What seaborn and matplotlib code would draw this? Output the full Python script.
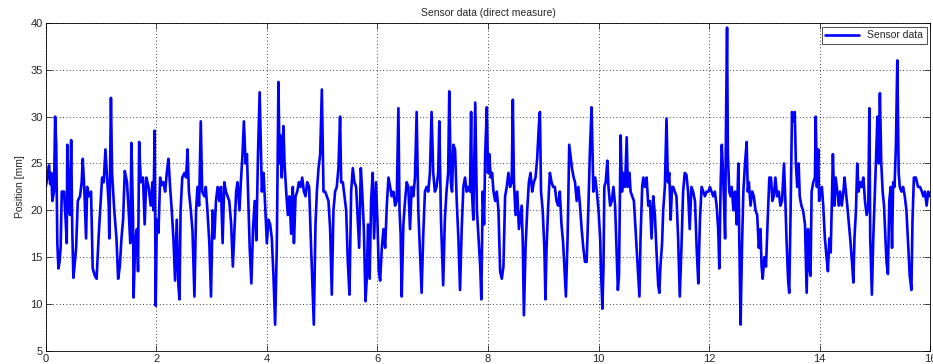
import matplotlib
matplotlib.use("Agg")
import matplotlib.pyplot as plt
import pandas as pd
import seaborn as sns

# Sensor position samples: (time [s], position [mm]), split into 2-second stretches
seg_00_02 = [(0.00, 22.5), (0.03, 23.5), (0.06, 24.8), (0.08, 22.8), (0.10, 24), (0.12, 21), (0.15, 22),
             (0.17, 30), (0.19, 27), (0.21, 16.5), (0.23, 13.8), (0.25, 14.5), (0.27, 16), (0.29, 22),
             (0.33, 22), (0.36, 19), (0.38, 16.5), (0.39, 27), (0.42, 21), (0.44, 19.5), (0.46, 27.5),
             (0.48, 18), (0.50, 12.8), (0.52, 14), (0.55, 16), (0.58, 21), (0.62, 21.5), (0.65, 23),
             (0.67, 25.5), (0.70, 22), (0.73, 17), (0.75, 22.5), (0.78, 21.5), (0.82, 22), (0.85, 13.8),
             (0.89, 13), (0.92, 12.7), (0.96, 17.5), (1.00, 21.5), (1.02, 23.5), (1.05, 23), (1.08, 26.5),
             (1.11, 23.5), (1.14, 20.5), (1.15, 17), (1.18, 32), (1.20, 24), (1.24, 20), (1.28, 17),
             (1.31, 12.7), (1.34, 14), (1.37, 17), (1.40, 19), (1.43, 24.2), (1.47, 23), (1.50, 20),
             (1.53, 16.5), (1.55, 27.2), (1.58, 19), (1.59, 10.7), (1.62, 17), (1.65, 18), (1.67, 13.5),
             (1.69, 27.3), (1.72, 23), (1.76, 23.5), (1.79, 18.5), (1.82, 23.5), (1.86, 22.5), (1.90, 20.5),
             (1.93, 23), (1.95, 20), (1.97, 28.5), (1.99, 9.8)]

seg_02_04 = [(2.01, 19), (2.04, 17.6), (2.07, 23.5), (2.10, 22.7), (2.13, 23), (2.16, 22), (2.19, 24),
             (2.22, 25.5), (2.25, 22.5), (2.28, 20), (2.31, 17), (2.34, 12.5), (2.37, 19), (2.40, 12),
             (2.42, 10.5), (2.44, 20), (2.47, 23.5), (2.51, 24), (2.54, 23.5), (2.565, 26.5), (2.59, 22),
             (2.625, 20), (2.655, 17.8), (2.69, 10.8), (2.72, 20), (2.745, 22.5), (2.775, 20.5),
             (2.805, 29.5), (2.83, 22), (2.87, 21.5), (2.895, 22.5), (2.925, 20), (2.96, 16.5), (2.99, 10.8),
             (3.02, 20), (3.05, 17), (3.08, 21), (3.11, 22.5), (3.14, 21), (3.17, 22.5), (3.20, 16.5),
             (3.23, 23), (3.26, 22), (3.29, 21.5), (3.32, 21), (3.355, 18.5), (3.385, 14), (3.415, 18),
             (3.445, 22), (3.47, 23), (3.505, 20), (3.53, 23), (3.56, 26), (3.585, 29.5), (3.615, 25),
             (3.64, 26), (3.66, 22), (3.69, 16), (3.72, 12.2), (3.75, 18), (3.78, 21), (3.81, 16.8),
             (3.84, 26), (3.87, 32.6)]

seg_04_06 = [(3.91, 22), (3.94, 24), (3.97, 20.5), (4.00, 16.5), (4.03, 19), (4.06, 18.5), (4.09, 17),
             (4.12, 13), (4.15, 7.8), (4.18, 16), (4.21, 33.7), (4.23, 25), (4.25, 28), (4.27, 23.5),
             (4.30, 29), (4.32, 25), (4.35, 22), (4.38, 19.5), (4.41, 21.5), (4.44, 17.5), (4.47, 22.5),
             (4.49, 16.5), (4.52, 21.5), (4.55, 22), (4.58, 23), (4.61, 22.5), (4.64, 23.5), (4.67, 22),
             (4.70, 21.5), (4.73, 23), (4.765, 22.5), (4.795, 17), (4.825, 12), (4.85, 7.8), (4.88, 18.5),
             (4.905, 22), (4.935, 24.5), (4.965, 26), (4.995, 32.9), (5.025, 22), (5.055, 22), (5.085, 21.5),
             (5.115, 21), (5.145, 18), (5.175, 11), (5.205, 20), (5.235, 22), (5.265, 22.5), (5.295, 24.5),
             (5.325, 30), (5.345, 23), (5.375, 23), (5.405, 21.5), (5.435, 20), (5.465, 14.5), (5.495, 11),
             (5.525, 22), (5.555, 24.5), (5.585, 23), (5.615, 22.5), (5.645, 19), (5.67, 16), (5.70, 24.5),
             (5.725, 22), (5.755, 18), (5.785, 10.3), (5.81, 13), (5.83, 18.5), (5.86, 12.7), (5.886, 21),
             (5.915, 24)]

seg_06_08 = [(5.94, 17), (5.975, 23), (6.00, 19), (6.025, 13.5), (6.05, 12.5), (6.08, 16), (6.11, 18),
             (6.14, 16), (6.17, 20.5), (6.20, 23.5), (6.23, 22.5), (6.26, 21.5), (6.29, 22), (6.32, 20.5),
             (6.35, 21), (6.38, 30.9), (6.40, 20), (6.42, 17.5), (6.44, 10.8), (6.47, 18.5), (6.50, 21),
             (6.53, 23), (6.56, 22.5), (6.59, 18), (6.62, 22.5), (6.65, 21.5), (6.68, 23.5), (6.71, 30.5),
             (6.74, 20), (6.77, 15.5), (6.80, 11.2), (6.83, 17.5), (6.86, 22), (6.89, 22.5), (6.92, 22),
             (6.95, 24), (6.98, 30.5), (7.01, 24), (7.04, 22), (7.07, 22.5), (7.10, 24), (7.12, 29.5),
             (7.15, 19), (7.18, 14), (7.19, 12), (7.22, 19), (7.25, 22), (7.28, 24), (7.30, 32.7),
             (7.33, 23), (7.35, 22), (7.375, 27), (7.405, 26.5), (7.435, 21), (7.465, 17), (7.495, 11.5),
             (7.525, 18), (7.555, 22.5), (7.585, 23.5), (7.615, 22), (7.645, 22.5), (7.675, 22),
             (7.695, 30.5), (7.71, 22), (7.735, 19), (7.77, 31.5), (7.80, 20), (7.83, 17), (7.86, 14),
             (7.88, 10.5)]

seg_08_10 = [(7.905, 22), (7.93, 18.5), (7.95, 26), (7.98, 31), (8.00, 24), (8.025, 26), (8.05, 23.5),
             (8.075, 24), (8.10, 22), (8.13, 21), (8.16, 22), (8.19, 20), (8.22, 13.5), (8.25, 12.7),
             (8.28, 14), (8.31, 21.5), (8.34, 22.5), (8.37, 24), (8.40, 22.5), (8.43, 23), (8.45, 31.8),
             (8.47, 23), (8.50, 19.5), (8.53, 22), (8.56, 18), (8.58, 19), (8.61, 20.5), (8.63, 16.5),
             (8.65, 8.8), (8.68, 16), (8.71, 20), (8.74, 23), (8.77, 24), (8.80, 22), (8.83, 23),
             (8.86, 23.5), (8.89, 25.5), (8.92, 29), (8.94, 30.5), (8.96, 22), (8.99, 20), (9.02, 16),
             (9.04, 10.5), (9.06, 16), (9.09, 20.5), (9.12, 24), (9.15, 23), (9.18, 22.5), (9.21, 22.5),
             (9.24, 21), (9.27, 20.5), (9.30, 22), (9.33, 18.5), (9.36, 16.5), (9.39, 13), (9.41, 10.8),
             (9.44, 17), (9.45, 20), (9.47, 27), (9.50, 25.5), (9.52, 24.5), (9.55, 23.5), (9.575, 23),
             (9.605, 21), (9.635, 22.5), (9.665, 20.5), (9.695, 18), (9.725, 16), (9.755, 14.5),
             (9.785, 14.5), (9.815, 20), (9.845, 26.5), (9.875, 31)]

seg_10_12 = [(9.906, 22), (9.94, 23.5), (9.97, 22), (10.0, 20), (10.03, 17), (10.045, 13.5), (10.07, 9.5),
             (10.09, 14), (10.105, 22.5), (10.13, 23), (10.16, 25.3), (10.18, 22.5), (10.21, 20.5),
             (10.24, 21), (10.27, 22.5), (10.30, 20.5), (10.33, 15), (10.35, 11.5), (10.37, 13), (10.40, 28),
             (10.425, 22), (10.45, 24), (10.48, 22.5), (10.51, 27.8), (10.53, 22.5), (10.56, 24), (10.58, 22),
             (10.61, 21.5), (10.64, 21), (10.67, 18), (10.70, 15), (10.74, 10.8), (10.76, 17), (10.79, 22.5),
             (10.81, 23.5), (10.84, 22.5), (10.87, 23.5), (10.90, 20.5), (10.93, 21), (10.96, 17),
             (10.99, 21.5), (11.02, 19.5), (11.05, 15.5), (11.08, 12), (11.10, 11.2), (11.12, 14),
             (11.15, 16.5), (11.17, 20), (11.20, 22.5), (11.23, 29.8), (11.255, 23), (11.28, 24),
             (11.305, 19), (11.33, 22.5), (11.35, 22.5), (11.38, 22), (11.41, 21.5), (11.44, 17),
             (11.47, 10.8), (11.50, 16), (11.53, 22), (11.56, 24), (11.59, 23.8), (11.62, 22), (11.65, 18),
             (11.68, 22.5), (11.71, 22), (11.745, 21), (11.775, 16), (11.805, 12.2), (11.835, 19),
             (11.865, 22.5), (11.895, 22), (11.925, 21.5), (11.955, 22)]

seg_12_14 = [(11.99, 22), (12.015, 22.5), (12.045, 22), (12.075, 21.5), (12.105, 22), (12.136, 20.5),
             (12.165, 18), (12.185, 13.8), (12.21, 23), (12.23, 27), (12.245, 25), (12.27, 21), (12.29, 17),
             (12.305, 28.5), (12.325, 39.5), (12.34, 26), (12.365, 22), (12.39, 21.5), (12.41, 22.5),
             (12.44, 20), (12.47, 22), (12.50, 18.5), (12.53, 25), (12.546, 17), (12.57, 7.8), (12.595, 16),
             (12.62, 22), (12.65, 25), (12.68, 27.3), (12.70, 22), (12.72, 23), (12.75, 20.5), (12.78, 22),
             (12.81, 21.5), (12.84, 20), (12.87, 19.5), (12.90, 16), (12.93, 18), (12.95, 14), (12.97, 12.7),
             (13.0, 15), (13.03, 14), (13.06, 19), (13.09, 23.5), (13.12, 23.5), (13.145, 21), (13.17, 21.5),
             (13.20, 23.5), (13.23, 21.5), (13.26, 22), (13.29, 20.5), (13.32, 21), (13.355, 25), (13.38, 21),
             (13.40, 17), (13.43, 12.5), (13.45, 11.2), (13.475, 20), (13.50, 30.5), (13.52, 29.5),
             (13.55, 30.5), (13.57, 25), (13.595, 22.5), (13.62, 25), (13.64, 21.5), (13.67, 20.5),
             (13.70, 20), (13.735, 18.5), (13.765, 11.2), (13.79, 18), (13.81, 14), (13.835, 13)]

seg_14_16 = [(13.855, 22), (13.885, 23), (13.915, 23.5), (13.93, 30), (13.95, 22.5), (13.975, 26.5),
             (13.99, 21), (14.02, 22), (14.04, 22.5), (14.065, 20.5), (14.095, 17), (14.125, 15),
             (14.15, 13.5), (14.175, 17), (14.20, 15.5), (14.22, 21), (14.24, 26), (14.265, 20.5),
             (14.29, 23.5), (14.32, 22), (14.345, 20.5), (14.37, 22), (14.40, 20.5), (14.43, 22),
             (14.45, 23.5), (14.475, 22), (14.50, 20.5), (14.53, 18.5), (14.56, 16.5), (14.585, 14.5),
             (14.61, 12.3), (14.63, 17), (14.657, 20), (14.68, 25), (14.705, 22), (14.73, 23), (14.76, 22.5),
             (14.79, 23.5), (14.82, 21), (14.85, 19.5), (14.88, 20.5), (14.90, 30.9), (14.915, 17),
             (14.945, 11), (14.97, 17), (15.0, 22), (15.02, 25.5), (15.045, 30), (15.07, 25), (15.09, 32.5),
             (15.115, 25), (15.14, 22), (15.165, 20.5), (15.19, 17), (15.21, 14.5), (15.235, 13.2),
             (15.26, 21), (15.285, 22.5), (15.31, 16), (15.33, 23), (15.355, 22.5), (15.38, 27), (15.405, 36),
             (15.43, 24), (15.45, 22.5), (15.48, 22), (15.51, 22.5), (15.54, 21.5), (15.57, 20), (15.60, 16.5),
             (15.63, 13), (15.66, 11.5), (15.68, 19), (15.705, 23.5), (15.74, 23.5), (15.78, 22.5),
             (15.815, 22.5), (15.85, 22), (15.875, 21.5), (15.905, 22), (15.935, 20.5), (15.965, 22),
             (15.995, 21.5)]

x_ticks = [0, 2, 4, 6, 8, 10, 12, 14, 16]
y_ticks = [5, 10, 15, 20, 25, 30, 35, 40]

segments = [seg_00_02, seg_02_04, seg_04_06, seg_06_08, seg_08_10, seg_10_12, seg_12_14, seg_14_16]
df = pd.DataFrame([p for seg in segments for p in seg], columns=["time", "position"])

sns.set_theme(style="ticks")
plt.rcParams["font.family"] = ["Liberation Sans", "DejaVu Sans"]

fig = plt.figure(figsize=(9.33, 3.64), dpi=100)
ax = fig.add_axes([0.049, 0.036, 0.948, 0.901])

sns.lineplot(data=df, x="time", y="position", ax=ax, color="#0000ff", linewidth=1.9,
             estimator=None, sort=False, label="Sensor data")

ax.set_xlim(0, 16)
ax.set_ylim(5, 40)
ax.set_xticks(x_ticks)
ax.set_yticks(y_ticks)
ax.grid(True, linestyle=(0, (1, 3)), color="black", linewidth=0.6)
ax.tick_params(direction="in", top=True, right=True, labelsize=8, length=4, width=0.6, pad=2)
for s in ax.spines.values():
    s.set_visible(True)
    s.set_linewidth(0.6)
    s.set_color("black")

ax.set_title("Sensor data (direct measure)", fontsize=7.5, pad=5)
ax.set_ylabel("Position [mm]", fontsize=7.5, labelpad=4)
ax.set_xlabel("")

leg = ax.legend(loc="upper right", fontsize=7.5, frameon=True, fancybox=False, edgecolor="black",
                handlelength=3.2, borderaxespad=0.35, borderpad=0.35)
leg.get_frame().set_linewidth(0.6)

fig.savefig("out.png", dpi=100)
